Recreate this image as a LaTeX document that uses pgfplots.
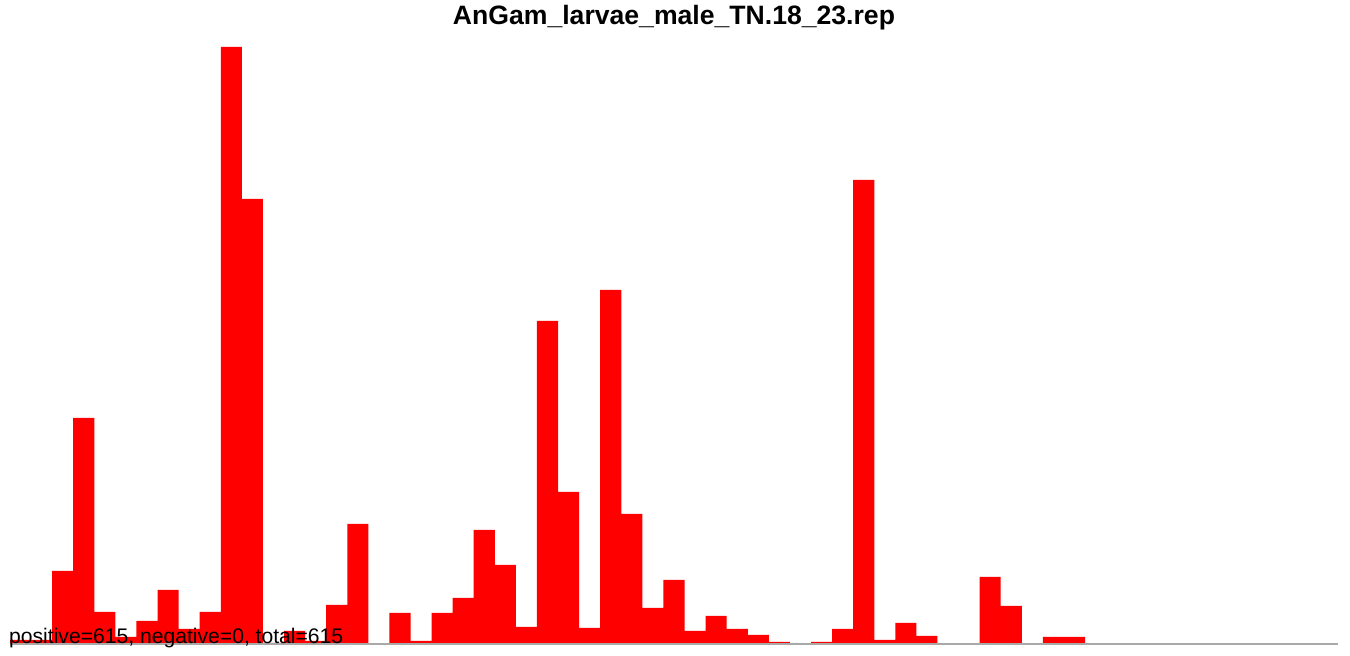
\documentclass[border=0pt]{standalone}
\usepackage{fontspec}
\setmainfont{Liberation Sans}
\usepackage{pgfplots}
\pgfplotsset{compat=1.18}
\definecolor{axgray}{HTML}{A9A9A9}
\begin{document}
\begin{tikzpicture}[x=1bp,y=1bp]
\useasboundingbox (0,0) rectangle (1350,656);
\begin{axis}[at={(10bp,12bp)}, anchor=south west, scale only axis,
  width=1328bp, height=597bp, xmin=0, xmax=63, ymin=0, ymax=597,
  hide axis, clip=false]
\addplot[ybar interval, fill=red, draw=none] coordinates {
(0,4) (1,4) (2,73) (3,226) (4,32) (5,7) (6,23) (7,54) (8,15) (9,32)
(10,597) (11,445) (12,1) (13,13) (14,3) (15,39) (16,120) (17,0) (18,31) (19,3)
(20,31) (21,46) (22,114) (23,79) (24,17) (25,323) (26,152) (27,16) (28,354) (29,130)
(30,36) (31,64) (32,13) (33,28) (34,15) (35,9) (36,2) (37,0.5) (38,2) (39,15)
(40,464) (41,4) (42,21) (43,8) (44,0.5) (45,0) (46,67) (47,38) (48,0.5) (49,7)
(50,7) (51,7)};
\draw[axgray, line width=2bp] (axis cs:0,0) -- (axis cs:63,0);
\end{axis}
\node[anchor=base, inner sep=0pt, font=\bfseries\fontsize{26.7}{30}\selectfont] at (674,631) {AnGam\_larvae\_male\_TN.18\_23.rep};
\node[anchor=base west, inner sep=0pt, font=\fontsize{21.2}{25}\selectfont] at (9,12) {positive=615, negative=0, total=615};
\end{tikzpicture}
\end{document}
